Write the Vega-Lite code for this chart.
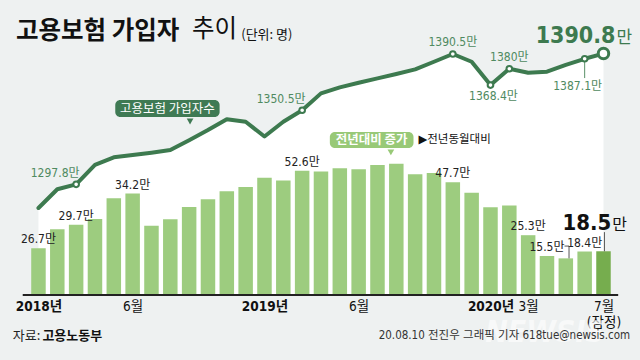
{
  "$schema": "https://vega.github.io/schema/vega-lite/v6.json",
  "width": 640,
  "height": 360,
  "autosize": "none",
  "padding": 0,
  "background": "#eef1f1",
  "config": {"view": {"stroke": null}, "font": "Noto Sans CJK KR"},
  "title": {"text": "고용보험 가입자", "anchor": "start", "frame": "group", "orient": "top", "offset": 0, "baseline": "middle", "dx": 16, "dy": 56, "fontSize": 24.5, "font": "Noto Sans CJK KR", "fontWeight": "bold", "color": "#111111"},
  "data": {"values": [
    {"i": 1, "month": "2018-01", "inc": 19.8, "subs": 1281.0, "incLabel": "26.7만", "subsLabel": null},
    {"i": 2, "month": "2018-02", "inc": 27.8, "subs": 1294.3, "incLabel": null, "subsLabel": null},
    {"i": 3, "month": "2018-03", "inc": 29.7, "subs": 1297.8, "incLabel": "29.7만", "subsLabel": "1297.8만"},
    {"i": 4, "month": "2018-04", "inc": 32.1, "subs": 1311.6, "incLabel": null, "subsLabel": null},
    {"i": 5, "month": "2018-05", "inc": 40.9, "subs": 1317.0, "incLabel": null, "subsLabel": null},
    {"i": 6, "month": "2018-06", "inc": 42.9, "subs": 1318.7, "incLabel": "34.2만", "subsLabel": null},
    {"i": 7, "month": "2018-07", "inc": 29.3, "subs": 1320.3, "incLabel": null, "subsLabel": null},
    {"i": 8, "month": "2018-08", "inc": 32.0, "subs": 1322.2, "incLabel": null, "subsLabel": null},
    {"i": 9, "month": "2018-09", "inc": 37.2, "subs": 1329.2, "incLabel": null, "subsLabel": null},
    {"i": 10, "month": "2018-10", "inc": 40.5, "subs": 1336.4, "incLabel": null, "subsLabel": null},
    {"i": 11, "month": "2018-11", "inc": 43.9, "subs": 1344.1, "incLabel": null, "subsLabel": null},
    {"i": 12, "month": "2018-12", "inc": 45.7, "subs": 1342.3, "incLabel": null, "subsLabel": null},
    {"i": 13, "month": "2019-01", "inc": 49.6, "subs": 1331.8, "incLabel": null, "subsLabel": null},
    {"i": 14, "month": "2019-02", "inc": 48.4, "subs": 1342.3, "incLabel": null, "subsLabel": null},
    {"i": 15, "month": "2019-03", "inc": 52.6, "subs": 1350.5, "incLabel": "52.6만", "subsLabel": "1350.5만"},
    {"i": 16, "month": "2019-04", "inc": 52.2, "subs": 1362.5, "incLabel": null, "subsLabel": null},
    {"i": 17, "month": "2019-05", "inc": 53.6, "subs": 1366.8, "incLabel": null, "subsLabel": null},
    {"i": 18, "month": "2019-06", "inc": 53.2, "subs": 1370.1, "incLabel": null, "subsLabel": null},
    {"i": 19, "month": "2019-07", "inc": 55.0, "subs": 1373.2, "incLabel": null, "subsLabel": null},
    {"i": 20, "month": "2019-08", "inc": 55.5, "subs": 1376.3, "incLabel": null, "subsLabel": null},
    {"i": 21, "month": "2019-09", "inc": 51.1, "subs": 1379.6, "incLabel": null, "subsLabel": null},
    {"i": 22, "month": "2019-10", "inc": 51.6, "subs": 1385.0, "incLabel": null, "subsLabel": null},
    {"i": 23, "month": "2019-11", "inc": 47.7, "subs": 1390.5, "incLabel": "47.7만", "subsLabel": "1390.5만"},
    {"i": 24, "month": "2019-12", "inc": 43.3, "subs": 1385.0, "incLabel": null, "subsLabel": null},
    {"i": 25, "month": "2020-01", "inc": 37.1, "subs": 1368.4, "incLabel": null, "subsLabel": "1368.4만"},
    {"i": 26, "month": "2020-02", "inc": 37.9, "subs": 1380.0, "incLabel": null, "subsLabel": "1380만"},
    {"i": 27, "month": "2020-03", "inc": 25.3, "subs": 1377.2, "incLabel": "25.3만", "subsLabel": null},
    {"i": 28, "month": "2020-04", "inc": 16.5, "subs": 1377.9, "incLabel": null, "subsLabel": null},
    {"i": 29, "month": "2020-05", "inc": 15.5, "subs": 1382.7, "incLabel": "15.5만", "subsLabel": null},
    {"i": 30, "month": "2020-06", "inc": 18.4, "subs": 1387.1, "incLabel": "18.4만", "subsLabel": "1387.1만"},
    {"i": 31, "month": "2020-07", "inc": 18.5, "subs": 1390.8, "incLabel": "18.5만", "subsLabel": "1390.8만"}
  ]},
  "encoding": {
    "x": {
      "field": "i", "type": "quantitative",
      "scale": {"domain": [-0.777, 32.673], "nice": false, "zero": false},
      "axis": {
        "values": [1, 6, 13, 18, 25, 27, 31],
        "labelExpr": "datum.value == 1 ? '2018년' : datum.value == 13 ? '2019년' : datum.value == 25 ? '2020년' : datum.value == 27 ? '3월' : datum.value == 31 ? ['7월', '(잠정)'] : '6월'",
        "domain": false, "ticks": false, "tickSize": 0, "grid": false, "offset": -65,
        "labelPadding": 4, "labelBaseline": "top", "labelLineHeight": 16,
        "labelFont": "Liberation Sans Narrow, DejaVu Sans Condensed, Noto Sans CJK KR",
        "labelFontSize": 13.5,
        "labelFontWeight": {"condition": {"test": "datum.value == 1 || datum.value == 13 || datum.value == 25", "value": "bold"}, "value": "normal"},
        "labelColor": "#111111", "labelFlush": false, "labelOverlap": false, "title": null
      }
    }
  },
  "layer": [
    {
      "encoding": {"y": {"field": "subs", "type": "quantitative", "scale": {"domain": [1172.9, 1428.9], "nice": false, "zero": false}, "axis": null}},
      "layer": [
        {"mark": {"type": "area", "color": "#ffffff", "opacity": 1}, "encoding": {"y2": {"datum": 1219.1}}}
      ]
    },
    {
      "encoding": {"y": {"field": "inc", "type": "quantitative", "scale": {"domain": [-27.5, 124.8], "nice": false, "zero": false}, "axis": null}},
      "layer": [
        {"mark": {"type": "bar", "size": 14.5}, "encoding": {"y2": {"datum": 0}, "color": {"condition": {"test": "datum.i == 31", "value": "#76ad4e"}, "value": "#9dcc7f"}}},
        {"transform": [{"filter": "datum.i == 1"}], "mark": {"type": "rule", "color": "#222222", "strokeWidth": 2}, "encoding": {"x": {"datum": 0.164}, "x2": {"datum": 31.78}, "y": {"datum": 0}}},
        {"transform": [{"filter": "datum.incLabel != null && datum.i != 29 && datum.i != 31"}], "mark": {"type": "text", "dy": -9, "baseline": "middle", "fontSize": 12, "font": "Liberation Sans Narrow, DejaVu Sans Condensed, Noto Sans CJK KR", "color": "#222222"}, "encoding": {"text": {"field": "incLabel"}}},
        {"transform": [{"filter": "datum.i == 29"}], "mark": {"type": "text", "baseline": "middle", "fontSize": 12, "font": "Liberation Sans Narrow, DejaVu Sans Condensed, Noto Sans CJK KR", "color": "#222222"}, "encoding": {"x": {"datum": 28.0}, "y": {"datum": 20.1}, "text": {"field": "incLabel"}}},
        {"transform": [{"filter": "datum.i == 29"}], "mark": {"type": "rule", "color": "#555555", "strokeWidth": 1}, "encoding": {"x": {"datum": 29.17}, "y2": {"datum": 20.7}}},
        {"transform": [{"filter": "datum.i == 29"}], "mark": {"type": "rule", "color": "#555555", "strokeWidth": 1}, "encoding": {"x": {"datum": 28.93}, "x2": {"datum": 29.17}, "y": {"datum": 20.7}}},
        {"transform": [{"filter": "datum.i == 31"}], "mark": {"type": "rule", "color": "#555555", "strokeWidth": 1}, "encoding": {"x": {"datum": 31.05}, "y2": {"datum": 26.6}}},
        {"transform": [{"filter": "datum.i == 31"}], "mark": {"type": "text", "align": "right", "baseline": "alphabetic", "fontSize": 22, "fontWeight": "bold", "font": "Liberation Sans Narrow, DejaVu Sans Condensed, Noto Sans CJK KR", "color": "#111111"}, "encoding": {"x": {"datum": 31.42}, "y": {"datum": 27.6}, "text": {"value": "18.5"}}},
        {"transform": [{"filter": "datum.i == 31"}], "mark": {"type": "text", "align": "left", "baseline": "alphabetic", "fontSize": 16, "font": "Noto Sans CJK KR", "color": "#111111"}, "encoding": {"x": {"datum": 31.47}, "y": {"datum": 27.6}, "text": {"value": "만"}}},
        {"transform": [{"filter": "datum.i == 1"}], "mark": {"type": "rect", "color": "#3f7a54", "cornerRadius": 5}, "encoding": {"x": {"datum": 5.077}, "x2": {"datum": 10.617}, "y": {"datum": 82.49}, "y2": {"datum": 75.30}}},
        {"transform": [{"filter": "datum.i == 1"}], "mark": {"type": "point", "shape": "triangle-down", "filled": true, "color": "#3f7a54", "opacity": 1, "size": 45}, "encoding": {"x": {"datum": 9.049}, "y": {"datum": 73.4}}},
        {"transform": [{"filter": "datum.i == 1"}], "mark": {"type": "text", "align": "center", "baseline": "middle", "fontSize": 12.5, "font": "Noto Sans CJK KR", "color": "#ffffff"}, "encoding": {"x": {"datum": 7.847}, "y": {"datum": 78.89}, "text": {"value": "고용보험 가입자수"}}},
        {"transform": [{"filter": "datum.i == 1"}], "mark": {"type": "rect", "color": "#98c977", "cornerRadius": 5}, "encoding": {"x": {"datum": 16.471}, "x2": {"datum": 20.913}, "y": {"datum": 68.95}, "y2": {"datum": 62.18}}},
        {"transform": [{"filter": "datum.i == 1"}], "mark": {"type": "point", "shape": "triangle-down", "filled": true, "color": "#98c977", "opacity": 1, "size": 45}, "encoding": {"x": {"datum": 19.711}, "y": {"datum": 60.3}}},
        {"transform": [{"filter": "datum.i == 1"}], "mark": {"type": "text", "align": "center", "baseline": "middle", "fontSize": 12.5, "fontWeight": "bold", "font": "Noto Sans CJK KR", "color": "#ffffff"}, "encoding": {"x": {"datum": 18.692}, "y": {"datum": 65.57}, "text": {"value": "전년대비 증가"}}},
        {"transform": [{"filter": "datum.i == 1"}], "mark": {"type": "text", "align": "left", "baseline": "middle", "fontSize": 11.5, "font": "DejaVu Sans, Noto Sans CJK KR", "color": "#111111"}, "encoding": {"x": {"datum": 21.174}, "y": {"datum": 65.57}, "text": {"value": "▶전년동월대비"}}},
        {"transform": [{"filter": "datum.i == 1"}], "mark": {"type": "text", "align": "left", "baseline": "middle", "fontSize": 24.5, "font": "Noto Sans CJK KR", "color": "#111111"}, "encoding": {"x": {"datum": 9.153}, "y": {"datum": 111.9}, "text": {"value": "추이"}}},
        {"transform": [{"filter": "datum.i == 1"}], "mark": {"type": "text", "align": "left", "baseline": "middle", "fontSize": 13, "font": "Noto Sans CJK KR", "color": "#111111"}, "encoding": {"x": {"datum": 11.767}, "y": {"datum": 110.0}, "text": {"value": "(단위: 명)"}}},
        {"transform": [{"filter": "datum.i == 1"}], "mark": {"type": "text", "align": "center", "baseline": "middle", "fontSize": 30, "fontWeight": "bold", "fontStyle": "italic", "font": "Liberation Sans Narrow, DejaVu Sans Condensed", "color": "#ffffff", "opacity": 0.6}, "encoding": {"x": {"datum": 27.9}, "y": {"datum": -16.1}, "text": {"value": "NEWSIS"}}},
        {"transform": [{"filter": "datum.i == 1"}], "mark": {"type": "text", "align": "left", "baseline": "middle", "fontSize": 13, "font": "Noto Sans CJK KR", "color": "#222222"}, "encoding": {"x": {"datum": -0.359}, "y": {"datum": -17.34}, "text": {"value": "자료:"}}},
        {"transform": [{"filter": "datum.i == 1"}], "mark": {"type": "text", "align": "left", "baseline": "middle", "fontSize": 13, "fontWeight": "bold", "font": "Noto Sans CJK KR", "color": "#111111"}, "encoding": {"x": {"datum": 1.209}, "y": {"datum": -17.34}, "text": {"value": "고용노동부"}}},
        {"transform": [{"filter": "datum.i == 1"}], "mark": {"type": "text", "align": "right", "baseline": "middle", "fontSize": 11.5, "font": "Liberation Sans Narrow, DejaVu Sans Condensed, Noto Sans CJK KR", "color": "#333333"}, "encoding": {"x": {"datum": 32.41}, "y": {"datum": -17.34}, "text": {"value": "20.08.10 전진우 그래픽 기자 618tue@newsis.com"}}}
      ]
    },
    {
      "encoding": {"y": {"field": "subs", "type": "quantitative", "scale": {"domain": [1172.9, 1428.9], "nice": false, "zero": false}, "axis": null}},
      "layer": [
        {"mark": {"type": "line", "color": "#3d7a4f", "strokeWidth": 4, "strokeJoin": "round", "strokeCap": "round"}},
        {"transform": [{"filter": "datum.i == 30"}], "mark": {"type": "rule", "color": "#5a9068", "strokeWidth": 1}, "encoding": {"y2": {"datum": 1373.4}}},
        {"transform": [{"filter": "datum.subsLabel != null && datum.i != 31"}], "mark": {"type": "point", "filled": true, "fill": "#ffffff", "stroke": "#3d7a4f", "strokeWidth": 2, "size": 32, "opacity": 1}},
        {"transform": [{"filter": "datum.i == 31"}], "mark": {"type": "point", "filled": true, "fill": "#ffffff", "stroke": "#3d7a4f", "strokeWidth": 3, "size": 110, "opacity": 1}},
        {"transform": [{"filter": "datum.i == 3 || datum.i == 15"}], "mark": {"type": "text", "dx": -21, "dy": -11, "baseline": "middle", "fontSize": 12, "font": "Liberation Sans Narrow, DejaVu Sans Condensed, Noto Sans CJK KR", "color": "#4f8a60"}, "encoding": {"text": {"field": "subsLabel"}}},
        {"transform": [{"filter": "datum.i == 23 || datum.i == 26"}], "mark": {"type": "text", "dy": -12, "baseline": "middle", "fontSize": 12, "font": "Liberation Sans Narrow, DejaVu Sans Condensed, Noto Sans CJK KR", "color": "#4f8a60"}, "encoding": {"text": {"field": "subsLabel"}}},
        {"transform": [{"filter": "datum.i == 25"}], "mark": {"type": "text", "dx": 3, "dy": 11, "baseline": "middle", "fontSize": 12, "font": "Liberation Sans Narrow, DejaVu Sans Condensed, Noto Sans CJK KR", "color": "#4f8a60"}, "encoding": {"text": {"field": "subsLabel"}}},
        {"transform": [{"filter": "datum.i == 30"}], "mark": {"type": "text", "dx": -7, "dy": 27, "baseline": "middle", "fontSize": 12, "font": "Liberation Sans Narrow, DejaVu Sans Condensed, Noto Sans CJK KR", "color": "#4f8a60"}, "encoding": {"text": {"field": "subsLabel"}}},
        {"transform": [{"filter": "datum.i == 31"}], "mark": {"type": "text", "align": "right", "baseline": "alphabetic", "dx": 12, "dy": -11, "fontSize": 23, "fontWeight": "bold", "font": "Liberation Sans Narrow, DejaVu Sans Condensed", "color": "#3d7a4f"}, "encoding": {"text": {"value": "1390.8"}}},
        {"transform": [{"filter": "datum.i == 31"}], "mark": {"type": "text", "align": "left", "baseline": "alphabetic", "dx": 13, "dy": -11, "fontSize": 17, "font": "Noto Sans CJK KR", "color": "#3d7a4f"}, "encoding": {"text": {"value": "만"}}}
      ]
    }
  ],
  "resolve": {"scale": {"y": "independent"}}
}
